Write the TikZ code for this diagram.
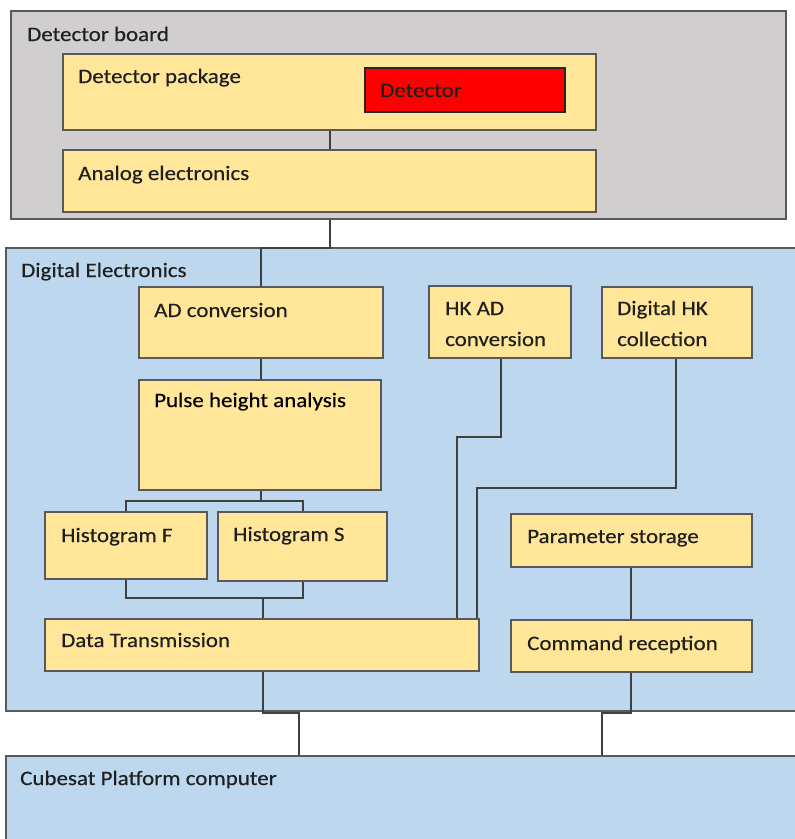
\documentclass[tikz,border=0pt]{standalone}
\usepackage{fontspec}
\setmainfont{Carlito}[FakeStretch=1.12, FakeBold=0.4]
\usetikzlibrary{fit}
\definecolor{boardfill}{HTML}{D0CECE}
\definecolor{bluefill}{HTML}{BDD7EE}
\definecolor{yelfill}{HTML}{FFE699}
\definecolor{redfill}{HTML}{FF0000}
\definecolor{edgecol}{HTML}{595959}
\definecolor{linecol}{HTML}{404040}
\definecolor{txtcol}{HTML}{1F1F1F}
\tikzset{
  outerbox/.style={draw=edgecol, line width=1.3pt, inner sep=0pt},
  graybox/.style={outerbox, fill=boardfill},
  bluebox/.style={outerbox, fill=bluefill},
  ybox/.style={draw=edgecol, fill=yelfill, line width=1.3pt, inner sep=0pt},
  redbox/.style={draw=black!85, fill=redfill, line width=1.5pt, inner sep=0pt},
  txt/.style={anchor=base west, inner sep=0pt, text=txtcol, font=\fontsize{20.5}{24}\selectfont},
  conn/.style={draw=linecol, line width=1.2pt},
}
\begin{document}
\begin{tikzpicture}[x=1pt,y=-1pt]
\useasboundingbox (0,0) rectangle (795,839);
\clip (0,0) rectangle (795,839);
\fill[white] (0,0) rectangle (795,839);
% Detector board
\node[graybox, fit={(11,11) (786,219)}] (board) {};
\node[txt] (boardt) at (27,41) {Detector board};
\node[ybox, fit={(63,54) (596,130)}] (pkg) {};
\node[txt] (pkgt) at (78,83) {Detector package};
\node[redbox, fit={(365,68) (565,112)}] (det) {};
\node[txt] (dett) at (380,97) {Detector};
\node[ybox, fit={(63,150) (596,212)}] (ana) {};
\node[txt] (anat) at (78,180) {Analog electronics};
% Digital electronics
\node[bluebox, fit={(6,248) (805,711)}] (dig) {};
\node[txt] (digt) at (21,277) {Digital Electronics};
\node[ybox, fit={(139,287) (383,358)}] (ad) {};
\node[txt] (adt) at (154,317) {AD conversion};
\node[ybox, fit={(139,380) (381,490)}] (pha) {};
\node[txt, text=black] (phat) at (154,407) {Pulse height analysis};
\node[ybox, fit={(429,286) (571,358)}] (hkad) {};
\node[txt] (hkadt1) at (445,315) {HK AD};
\node[txt] (hkadt2) at (445,346) {conversion};
\node[ybox, fit={(602,287) (752,358)}] (dhk) {};
\node[txt] (dhkt1) at (617,315) {Digital HK};
\node[txt] (dhkt2) at (617,346) {collection};
\node[ybox, fit={(45,512) (207,579)}] (hf) {};
\node[txt] (hft) at (61,542) {Histogram F};
\node[ybox, fit={(218,512) (387,581)}] (hs) {};
\node[txt] (hst) at (233,541) {Histogram S};
\node[ybox, fit={(45,619) (479,671)}] (dt) {};
\node[txt] (dtt) at (61,647) {Data Transmission};
\node[ybox, fit={(511,514) (752,567)}] (ps) {};
\node[txt] (pst) at (527,543) {Parameter storage};
\node[ybox, fit={(511,620) (752,672)}] (cr) {};
\node[txt] (crt) at (527,650) {Command reception};
% Cubesat
\node[bluebox, fit={(6,756) (805,850)}] (cube) {};
\node[txt] (cubet) at (20,785) {Cubesat Platform computer};
% connectors
\draw[conn] (pkg.south -| 330,0) -- (ana.north -| 330,0);
\draw[conn] (board.south -| 330,0) |- (261,248) -- (ad.north -| 261,0);
\draw[conn] (ad.south -| 261,0) -- (pha.north -| 261,0);
\draw[conn] (pha.south -| 261,0) -- (261,501);
\draw[conn] (hf.north -| 126,0) -- (126,501) -| (hs.north -| 303,0);
\draw[conn] (hf.south -| 126,0) -- (126,598) -| (hs.south -| 303,0);
\draw[conn] (263,598) -- (dt.north -| 263,0);
\draw[conn] (hkad.south -| 501,0) -- (501,437) -| (dt.north -| 457,0);
\draw[conn] (dhk.south -| 676,0) -- (676,488) -| (dt.north -| 477,0);
\draw[conn] (ps.south -| 631,0) -- (cr.north -| 631,0);
\draw[conn] (dt.south -| 263,0) -- (263,713) -| (cube.north -| 299,0);
\draw[conn] (cr.south -| 631,0) -- (631,713) -| (cube.north -| 602,0);
\end{tikzpicture}
\end{document}
